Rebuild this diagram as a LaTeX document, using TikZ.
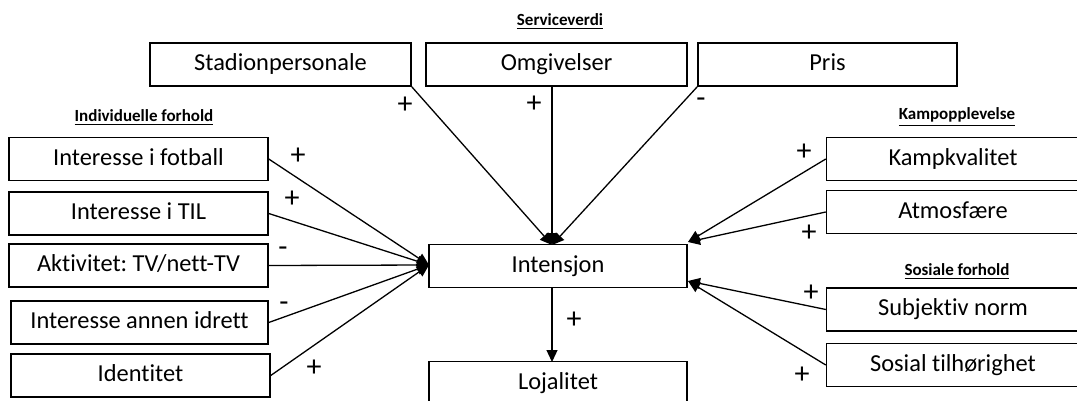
\documentclass[tikz,border=0pt]{standalone}
\usepackage{fontspec}
\setmainfont{Carlito}[Ligatures=NoCommon]
\usetikzlibrary{arrows.meta}
\frenchspacing
\begin{document}
\begin{tikzpicture}[x=0.5pt,y=-0.5pt,
  box/.style={draw=black,line width=0.75pt,rectangle,inner sep=0pt,minimum height=21.5pt,
    text height=0.64em,text depth=0pt,
    font=\fontsize{12.2}{14}\selectfont},
  hdr/.style={inner sep=0pt,font=\fontsize{8.5}{10}\selectfont\bfseries},
  sign/.style={inner sep=0pt,font=\fontsize{15}{17}\selectfont},
  conn/.style={line width=0.65pt,-{Triangle[length=6pt,width=5.5pt]}}]
\useasboundingbox (0,0) rectangle (1077,401);
% header labels
\node[hdr] (hs) at (560,22) {\underline{Serviceverdi}};
\node[hdr] (hi) at (144,118) {\underline{Individuelle forhold}};
\node[hdr] (hk) at (957,117) {\underline{Kampopplevelse}};
\node[hdr] (hso) at (957,272) {\underline{Sosiale forhold}};
% left boxes
\node[box,minimum width=129.5pt] (fot) at (138.5,159) {Interesse i fotball};
\node[box,minimum width=129.5pt] (til) at (138.5,213.5) {Interesse i TIL};
\node[box,minimum width=129.5pt] (akt) at (138.5,265.5) {Aktivitet: TV/nett-TV};
\node[box,minimum width=128.5pt] (ann) at (139.5,322.5) {Interesse annen idrett};
\node[box,minimum width=129.5pt] (ide) at (140.5,375.5) {Identitet};
% top boxes
\node[box,minimum width=130.5pt] (stad) at (280.5,64.5) {Stadionpersonale};
\node[box,minimum width=130.5pt] (omg) at (556.5,64.5) {Omgivelser};
\node[box,minimum width=129.5pt] (pris) at (827.5,64.5) {Pris};
% center
\node[box,minimum width=129pt] (int) at (558,266) {Intensjon};
\node[box,minimum width=129pt] (loj) at (558,383) {Lojalitet};
% right boxes
\node[box,minimum width=126.5pt] (kamp) at (953,159) {Kampkvalitet};
\node[box,minimum width=126.5pt] (atm) at (953,212) {Atmosfære};
\node[box,minimum width=126.5pt] (subj) at (953,309.5) {Subjektiv norm};
\node[box,minimum width=126.5pt] (sos) at (953,365) {Sosial tilhørighet};
% convergence points
\coordinate (ileft) at (429,265);
\coordinate (itop) at (552,245);
\coordinate (iru) at (688,242);
\coordinate (irl) at (688,281);
\coordinate (ibot) at (552,287);
\coordinate (ltop) at (552,362);
\coordinate (omgb) at (552,86);
% connectors
\draw[conn] (fot.east) -- (ileft);
\draw[conn] (til.east) -- (ileft);
\draw[conn] (akt.east) -- (ileft);
\draw[conn] (ann.east) -- (ileft);
\draw[conn] (ide.east) -- (ileft);
\draw[conn] (stad.south east) -- (itop);
\draw[conn] (omgb) -- (itop);
\draw[conn] (pris.south west) -- (itop);
\draw[conn] (kamp.west) -- (iru);
\draw[conn] (atm.west) -- (iru);
\draw[conn] (subj.west) -- (irl);
\draw[conn] (sos.west) -- (irl);
\draw[conn] (ibot) -- (ltop);
% signs
\node[sign] (s1) at (298,156) {+};
\node[sign] (s2) at (292,199) {+};
\node[sign] (s3) at (283,252) {-};
\node[sign] (s4) at (284,307) {-};
\node[sign] (s5) at (314,368) {+};
\node[sign] (s6) at (405,105) {+};
\node[sign] (s7) at (534,104) {+};
\node[sign] (s8) at (701,103) {-};
\node[sign] (s9) at (804,152) {+};
\node[sign] (s10) at (809,233) {+};
\node[sign] (s11) at (811,293) {+};
\node[sign] (s12) at (802,375) {+};
\node[sign] (s13) at (574,320) {+};
\end{tikzpicture}
\end{document}
